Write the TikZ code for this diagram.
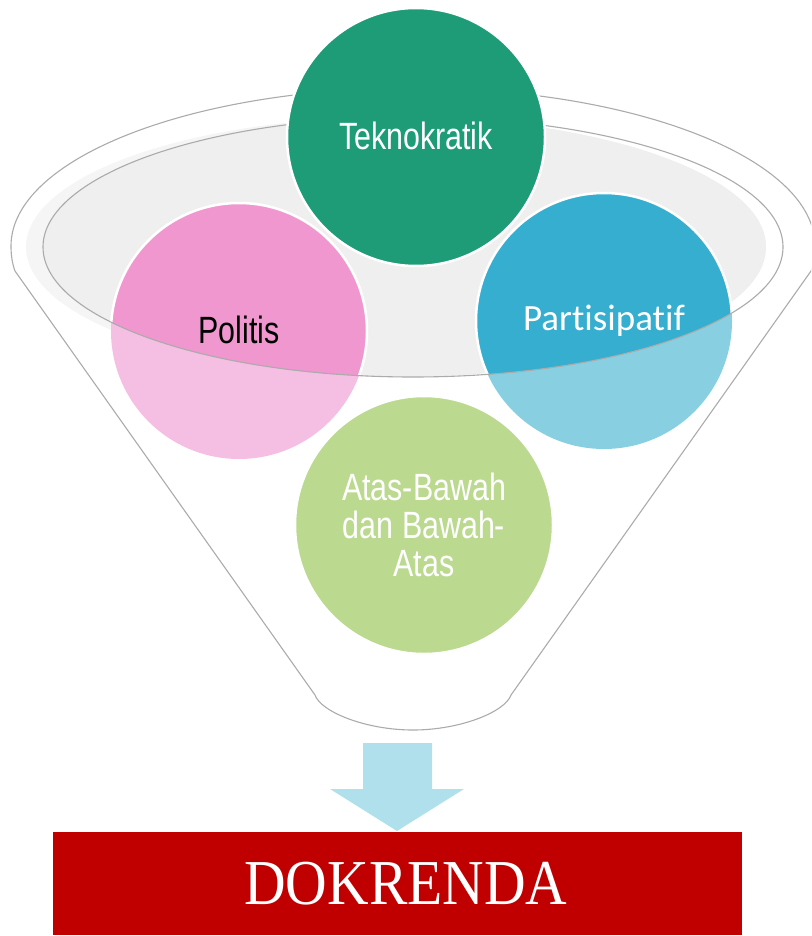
\documentclass[tikz,border=0pt]{standalone}
\usepackage{fontspec}
\setmainfont{Liberation Sans}
\newfontfamily\carlitofont[Ligatures=NoCommon,Renderer=OpenType]{Carlito}
\newfontfamily\titlefont[FakeStretch=0.9]{Liberation Serif}
\newfontfamily\narrowfont[FakeStretch=0.8]{Liberation Sans}
\definecolor{lineGray}{HTML}{ABABAB}
\definecolor{paleA}{HTML}{F5F5F5}
\definecolor{paleB}{HTML}{EFEFEF}
\definecolor{tekGreen}{HTML}{1E9C78}
\definecolor{pinkDark}{HTML}{F097D0}
\definecolor{pinkLight}{HTML}{F5BFE3}
\definecolor{blueDark}{HTML}{36AECF}
\definecolor{blueLight}{HTML}{88CFE1}
\definecolor{leaf}{HTML}{BBD98F}
\definecolor{arrowBlue}{HTML}{B0E0EC}
\definecolor{redBar}{HTML}{C00000}
\tikzset{
  x=1pt,y=-1pt,
  funnelLine/.style={draw=lineGray,line width=1.1pt},
  bubble/.style={circle,minimum size=258pt,inner sep=0pt,align=center},
  side bubble/.style={circle,minimum size=256pt,inner sep=0pt},
  ring/.style={bubble,draw=white,line width=2.5pt},
  label narrow/.style={font=\narrowfont\fontsize{38}{38}\selectfont},
}
\begin{document}
\begin{tikzpicture}
\useasboundingbox (0,0) rectangle (811,936);
\begin{scope}
\clip (0,0) rectangle (811,936);
% funnel outline
\draw[funnelLine,line join=round]
  (15,271) .. controls (12,263) and (11,254) .. (11,246)
  arc[start angle=180,end angle=360,x radius=402,y radius=158]
  .. controls (815,254) and (814,263) .. (811,271)
  -- (511,695)
  .. controls (505,712) and (460,730) .. (413,730)
  .. controls (366,730) and (321,712) .. (315,695)
  -- cycle;
% pale disc, offset from the rim
\fill[paleA] (396,247) ellipse[x radius=370,y radius=130];
\begin{scope}
  \clip (413,247) ellipse[x radius=370,y radius=130];
  \fill[paleB] (396,247) ellipse[x radius=370,y radius=130];
\end{scope}
% side circles
\node[side bubble,fill=pinkLight] (polA) at (239,331) {};
\node[side bubble,fill=blueLight] (parA) at (604,321) {};
\begin{scope}
  \clip (413,247) ellipse[x radius=370,y radius=130];
  \node[side bubble,draw=white,line width=2.5pt,fill=pinkDark] (polB) at (239,331) {};
  \node[side bubble,draw=white,line width=2.5pt,fill=blueDark] (parB) at (604,321) {};
\end{scope}
% rim
\draw[funnelLine] (413,247) ellipse[x radius=370,y radius=130];
\end{scope}
% top and bottom circles
\node[ring,fill=leaf] (ata) at (424,525) {};
\node[ring,fill=tekGreen] (tek) at (416,137) {};
% labels
\node[label narrow,text=white] at (416,136) {Teknokratik};
\node[label narrow,text=black] at (239,330) {Politis};
\node[text=white,font=\carlitofont\fontsize{37}{44}\selectfont] at (604,321) {Partisipatif};
\node[label narrow,text=white,align=center] at (424,525) {Atas-Bawah\\dan Bawah-\\Atas};
% arrow
\fill[arrowBlue] (363,743) -- (432,743) -- (432,789) -- (464,789) -- (397,831) -- (330,789) -- (363,789) -- cycle;
% banner
\node[fill=redBar,text=white,minimum width=689pt,minimum height=103pt,inner sep=0pt,font=\titlefont\fontsize{64}{70}\selectfont] (dok) at (397.5,883.5) {\hspace*{17pt}DOKRENDA};
\end{tikzpicture}
\end{document}
